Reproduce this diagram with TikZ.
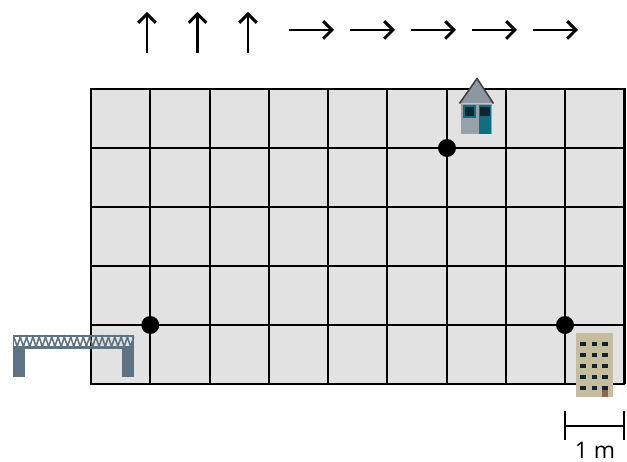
\documentclass[tikz,border=0pt]{standalone}
\usepackage{fontspec}
\setmainfont{Open Sans}
\usetikzlibrary{arrows.meta}
\definecolor{cellgray}{HTML}{E2E2E2}
\definecolor{steelblue}{HTML}{5E7383}
\definecolor{roofgray}{HTML}{8E979F}
\definecolor{wallgray}{HTML}{98A0A8}
\definecolor{doorteal}{HTML}{0F6F7F}
\definecolor{windowdark}{HTML}{0E2430}
\definecolor{towertan}{HTML}{C6BD9E}
\definecolor{towerdoor}{HTML}{86694F}
\begin{document}
\begin{tikzpicture}[x=0.02cm,y=-0.02cm]
	\useasboundingbox (0,0) rectangle (627,462);
	% grid
	\fill[cellgray] (91,89) rectangle (624.5,384);
	\foreach \i in {0,...,9}
		\draw[line width=1.2pt] (91+59.28*\i,88.5) -- (91+59.28*\i,384.5);
	\foreach \j in {0,...,5}
		\draw[line width=1.2pt] (90.5,89+59*\j) -- (625,89+59*\j);

	\begin{scope}[every node/.style={circle,fill=black,inner sep=0pt,minimum size=10.2pt}]
		\node (d1) at (150.3,325) {};
		\node (d2) at (447,148) {};
		\node (d3) at (565,325) {};
	\end{scope}

	% bridge
	\begin{scope}[steelblue]
		\fill (13,335) rectangle (134,337.5);
		\fill (13,346) rectangle (134,349.5);
		\fill (13,335) rectangle (14.5,349);
		\fill (132.5,335) rectangle (134,349);
		\fill (13,349) rectangle (25.5,377);
		\fill (122,349) rectangle (134,377);
		\draw[line width=0.9pt] (14,337)
			\foreach \k in {0,...,18} { -- (17.1+6.3*\k,346.5) -- (20.3+6.3*\k,337) };
	\end{scope}

	% house
	\fill[wallgray] (461,104) rectangle (492,134);
	\fill[roofgray] (477,79) -- (460,103.5) -- (493.5,103.5) -- cycle;
	\draw[black!75,line width=0.9pt,line join=round] (459.5,103.5) -- (477,78.5) -- (493.5,103.5);
	\fill[doorteal] (463.5,105.5) rectangle (476,118);
	\fill[windowdark] (465,107) rectangle (474.5,116.5);
	\fill[doorteal] (479,105.5) rectangle (491.5,134);
	\fill[windowdark] (480,107) rectangle (490,116.5);

	% tower
	\fill[towertan] (576,333) rectangle (613,397.5);
	\fill[towerdoor] (602,390) rectangle (608,397.5);
	\foreach \wy in {342,353,364,375,386}
		\foreach \wx in {580.5,592,602.5}
			\fill[windowdark] (\wx,\wy) rectangle +(5.5,4.5);

	% scale bar
	\coordinate (s1) at (565,411);
	\coordinate (s2) at (565,440);
	\coordinate (s3) at (624,411);
	\coordinate (s4) at (624,440);
	\coordinate (s5) at (565,426);
	\coordinate (s6) at (624,426);
	\draw[line width=1.2pt] (s1) -- (s2);
	\draw[line width=1.2pt] (s3) -- (s4);
	\draw[line width=1.2pt] (s5) -- (s6);
	\node[inner sep=0pt,font=\fontsize{13}{15}\selectfont] (len) at (595,450.5) {1 m};

	% moves
	\begin{scope}[line width=1.3pt,>={Straight Barb[length=5pt,width=10pt,line width=1.7pt]}]
		\foreach \n/\ax in {1/147,2/197.5,3/248} {
			\coordinate (ua\n) at (\ax,53);
			\coordinate (ub\n) at (\ax,12);
			\draw[->] (ua\n) -- (ub\n);
		}
		\foreach \n/\ax in {1/289,2/350,3/411,4/472,5/533} {
			\coordinate (ra\n) at (\ax,30);
			\coordinate (rb\n) at (\ax+45,30);
			\draw[->] (ra\n) -- (rb\n);
		}
	\end{scope}
\end{tikzpicture}
\end{document}
